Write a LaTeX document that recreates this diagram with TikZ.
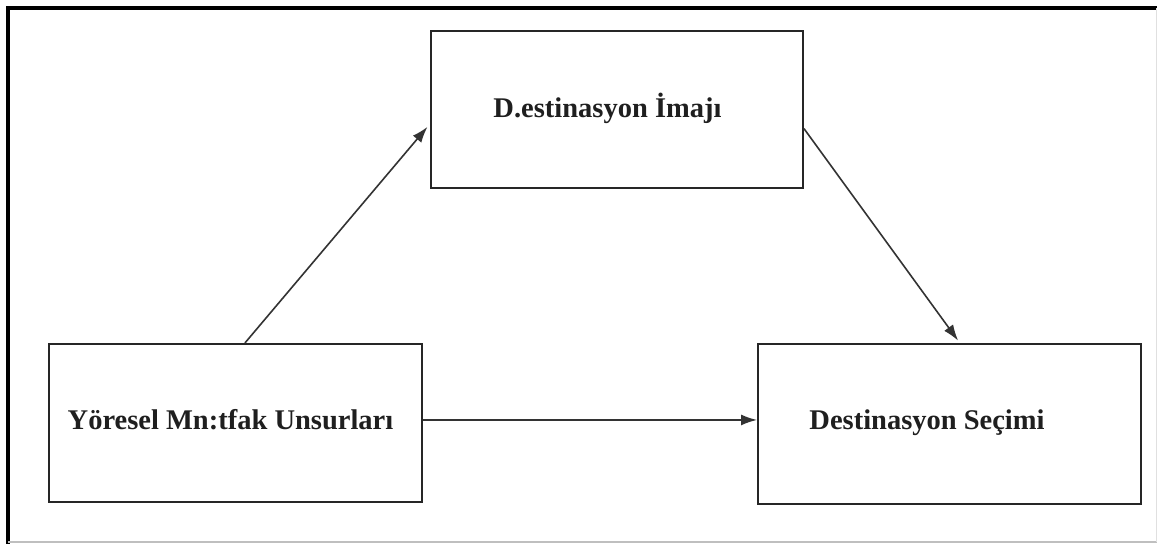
\documentclass[tikz,border=0pt]{standalone}
\usepackage{fontspec}
\setmainfont{Liberation Serif}
\usetikzlibrary{arrows.meta,calc}
\tikzset{
  box/.style={draw=black!85, line width=1.9pt, rectangle, inner sep=0pt, fill=none},
  lbl/.style={inner sep=0pt, anchor=base, font=\fontsize{28.5}{32}\selectfont\bfseries, text=black!88},
  conn/.style={draw=black!80, line width=1.6pt, -{Latex[length=16pt,width=11pt]}}
}
\begin{document}
\begin{tikzpicture}[x=1pt,y=-1pt]
\useasboundingbox (0,0) rectangle (1157,544);
\fill[white] (0,0) rectangle (1157,544);
% outer frame
\coordinate (ftl) at (8,8);
\coordinate (ftr) at (1157,8);
\coordinate (fbl) at (8,544);
\draw[line width=3.2pt, black] (ftr) -- (ftl) -- (fbl);
\coordinate (gb1) at (8,542);
\coordinate (gb2) at (1157,542);
\coordinate (gr1) at (1156,8);
\coordinate (gr2) at (1156,542);
\draw[line width=1.2pt, black!25] (gb1) -- (gb2);
\draw[line width=0.8pt, black!12] (gr1) -- (gr2);
% boxes
\node[box, minimum width=372pt, minimum height=157pt] (di) at (617,109.5) {};
\node[box, minimum width=373pt, minimum height=158pt] (yb) at (235.5,423) {};
\node[box, minimum width=383pt, minimum height=160pt] (ds) at (949.5,424) {};
% texts
\node[lbl] (tdi) at (607.5,117.5) {D.estinasyon İmajı};
\node[lbl] (tyb) at (230.5,429.5) {Yöresel Mn:tfak Unsurları};
\node[lbl] (tds) at (927,429.5) {Destinasyon Seçimi};
% connectors
\draw[conn, shorten >=4pt] ($(yb.north west)!0.525!(yb.north east)$) -- ($(di.north west)!0.59!(di.south west)$);
\draw[conn, shorten >=3pt] ($(di.north east)!0.62!(di.south east)$) -- ($(ds.north west)!0.527!(ds.north east)$);
\draw[conn] ($(yb.north east)!0.481!(yb.south east)$) -- ($(ds.north west)!0.475!(ds.south west)$);
\end{tikzpicture}
\end{document}
